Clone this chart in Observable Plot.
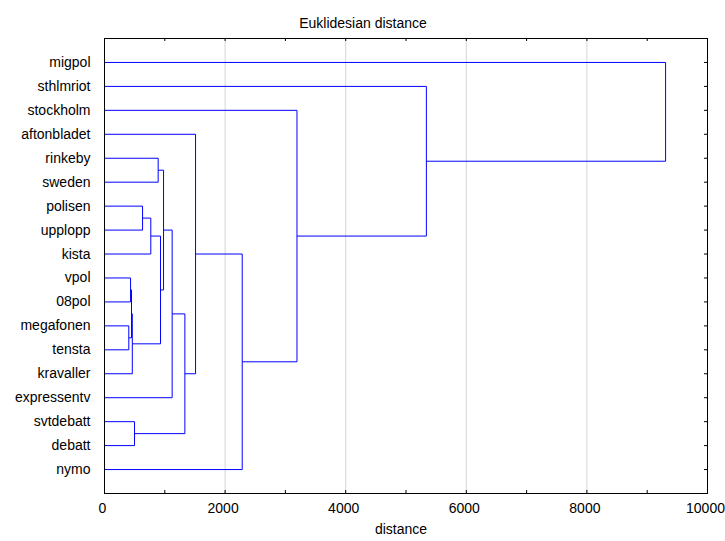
<!DOCTYPE html>
<html><head><meta charset="utf-8">
<script src="https://cdn.jsdelivr.net/npm/d3@7"></script>
<script src="https://cdn.jsdelivr.net/npm/@observablehq/plot@0.6"></script>
<style>body{margin:0;background:#fff;}</style>
</head><body><div id="chart"></div>
<script>
const title = "Euklidesian distance";
const xLabel = "distance";
const leaves = ["migpol","sthlmriot","stockholm","aftonbladet","rinkeby","sweden","polisen","upplopp","kista","vpol","08pol","megafonen","tensta","kravaller","expressentv","svtdebatt","debatt","nymo"];
// merges: child A, child B (leaf name or "m<index>"), linkage distance
const mergeA = ["rinkeby","polisen","m1","vpol","megafonen","m3","m5","m2","m0","m8","svtdebatt","m9","aftonbladet","m12","stockholm","sthlmriot","migpol"];
const mergeB = ["sweden","upplopp","kista","08pol","tensta","m4","kravaller","m6","m7","expressentv","debatt","m10","m11","nymo","m13","m14","m15"];
const mergeHeight = [890,631,768,432,403,448,461,929,979,1122,498,1333,1510,2284,3192,5338,9305];
const xTickLabels = [0,2000,4000,6000,8000,10000];
const xTicks = [0,1000,2000,3000,4000,5000,6000,7000,8000,9000,10000];
const gridValues = [2000,4000,6000,8000];

const nodes = new Map(leaves.map((name,i)=>[name,{h:0,y:i}]));
const segs = [];
mergeHeight.forEach((h,i)=>{
  const a = nodes.get(mergeA[i]), b = nodes.get(mergeB[i]);
  segs.push({x1:a.h,y1:a.y,x2:h,y2:a.y});
  segs.push({x1:b.h,y1:b.y,x2:h,y2:b.y});
  segs.push({x1:h,y1:a.y,x2:h,y2:b.y});
  nodes.set("m"+i,{h,y:(a.y+b.y)/2});
});

const W=725,H=541,mt=38,mb=48,ml=104,mr=18;
const fw=W-ml-mr, fh=H-mt-mb;
const idx = d3.range(leaves.length);

const chart = Plot.plot({
  width:W,height:H,marginTop:mt,marginBottom:mb,marginLeft:ml,marginRight:mr,
  x:{domain:[0,10000]},
  y:{domain:[-1,leaves.length],reverse:true},
  style:{fontSize:"14px",fontFamily:"Arial, 'Liberation Sans', sans-serif",background:"#fff",color:"#000",overflow:"visible"},
  marks:[
    Plot.ruleX(gridValues,{stroke:"#d4d4d4"}),
    Plot.link(segs,{x1:"x1",y1:"y1",x2:"x2",y2:"y2",stroke:"#0000ff",strokeWidth:1}),
    Plot.ruleX(xTicks,{insetTop:fh-3,stroke:"#000"}),
    Plot.ruleX(xTicks,{insetBottom:fh-3,stroke:"#000"}),
    Plot.ruleY(idx,{insetLeft:fw-3,stroke:"#000"}),
    Plot.frame({stroke:"#000"}),
    Plot.axisX(xTickLabels,{tickSize:0,tickPadding:10,dx:-2,label:null,tickFormat:d=>String(d)}),
    Plot.axisY(idx,{tickSize:0,tickPadding:14,label:null,tickFormat:i=>leaves[i]}),
    Plot.text([title],{frameAnchor:"top",dy:-20,dx:-43}),
    Plot.text([xLabel],{frameAnchor:"bottom",dy:40,dx:-5})
  ]
});
document.getElementById("chart").appendChild(chart);
</script>
</body></html>
